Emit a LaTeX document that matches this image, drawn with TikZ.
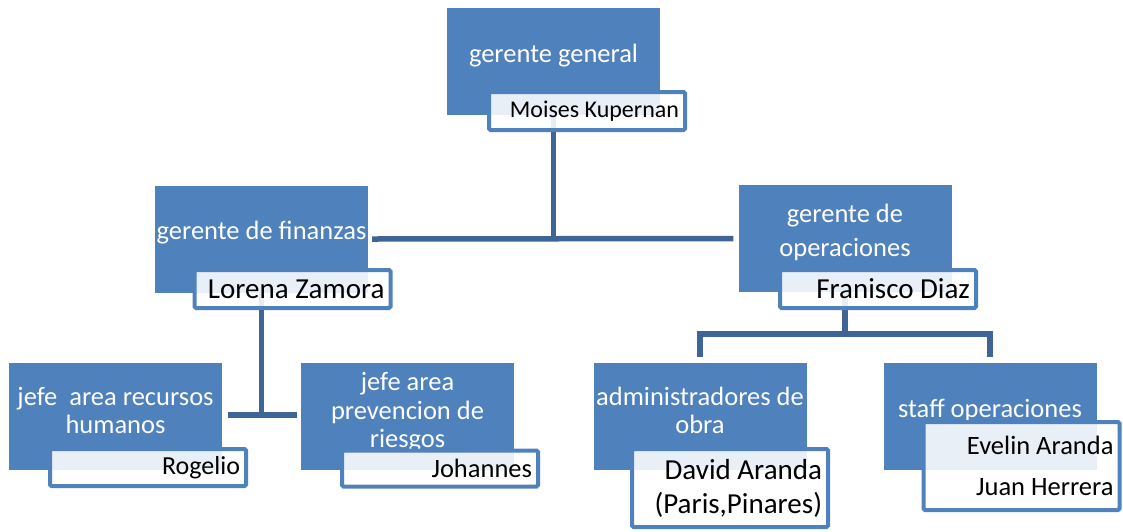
\documentclass[tikz,border=0pt]{standalone}
\usepackage{fontspec}
\setmainfont{Carlito}
\usetikzlibrary{backgrounds}

\definecolor{rolefill}{HTML}{4F81BD}
\definecolor{linkcol}{HTML}{3F6496}

\tikzset{
  rolebox/.style={rectangle, fill=rolefill, minimum width=213pt, minimum height=107pt, inner sep=0pt},
  roletext/.style={text=white, align=center, font=\fontsize{26.5}{28.5}\selectfont, yshift=6pt},
  namebox/.style={rectangle, draw=rolefill, line width=4pt, fill=white, fill opacity=0.88, text opacity=1,
    rounded corners=1.5pt, minimum width=196pt, text width=184pt, inner xsep=6pt, inner ysep=0pt, align=flush right},
  link/.style={draw=linkcol, line width=5.5pt},
}

\begin{document}
\begin{tikzpicture}[x=1pt, y=-1pt]
  \useasboundingbox (0,0) rectangle (1123,531);

  % Roles
  \node[rolebox, label={[roletext]center:gerente general}] (gg) at (553.5,61.5) {};
  \node[rolebox, label={[roletext]center:gerente de finanzas}] (fin) at (261.5,239) {};
  \node[rolebox, label={[roletext, font=\fontsize{26.5}{34}\selectfont]center:{gerente de\\operaciones}}] (ops) at (845,238.5) {};
  \node[rolebox, label={[roletext]center:{jefe\ \ area recursos\\humanos}}] (rrhh) at (115.5,416.5) {};
  \node[rolebox, label={[roletext, yshift=-2pt]center:{jefe area\\prevencion de\\riesgos}}] (prev) at (407.5,416.5) {};
  \node[rolebox, label={[roletext]center:{administradores de\\obra}}] (adm) at (700,416.5) {};
  \node[rolebox, label={[roletext]center:staff operaciones}] (staff) at (990,416.5) {};

  % Names
  \node[namebox, minimum height=38pt, font=\fontsize{24}{28}\selectfont] (moises) at (587,111) {Moises Kupernan};
  \node[namebox, minimum height=38pt, font=\fontsize{29}{34}\selectfont] (lorena) at (292.5,289) {Lorena Zamora};
  \node[namebox, minimum height=38pt, font=\fontsize{29}{34}\selectfont] (franisco) at (878,289) {Franisco Diaz};
  \node[namebox, minimum height=37pt, font=\fontsize{26}{30}\selectfont] (rogelio) at (148,467.5) {Rogelio};
  \node[namebox, minimum height=36pt, font=\fontsize{26.5}{30}\selectfont] (johannes) at (440,468.5) {Johannes};
  \node[namebox, minimum height=78pt, font=\fontsize{29}{34}\selectfont] (david) at (730,488) {David Aranda\\(Paris,Pinares)};
  \node[namebox, minimum height=88pt, font=\fontsize{26.5}{41}\selectfont] (evelin) at (1021.5,466) {Evelin Aranda\\Juan Herrera};

  % Links
  \begin{scope}[on background layer]
    \coordinate (topbar) at (gg.south |- fin.east);
    \coordinate (finbar) at (261.5,415);
    \coordinate (opsbar) at (845,334);
    \draw[link] (gg.south) -- (topbar);
    \draw[link] ([xshift=4pt]fin.east) -- ([xshift=-5pt]ops.west);
    \draw[link] (fin.south) -- (finbar);
    \draw[link] ([xshift=6pt]rrhh.east |- finbar) -- ([xshift=-4pt]prev.west |- finbar);
    \draw[link] (ops.south) -- (opsbar);
    \draw[link] ([yshift=6pt]adm.north) |- (opsbar) -| ([yshift=6pt]staff.north);
  \end{scope}
\end{tikzpicture}
\end{document}
